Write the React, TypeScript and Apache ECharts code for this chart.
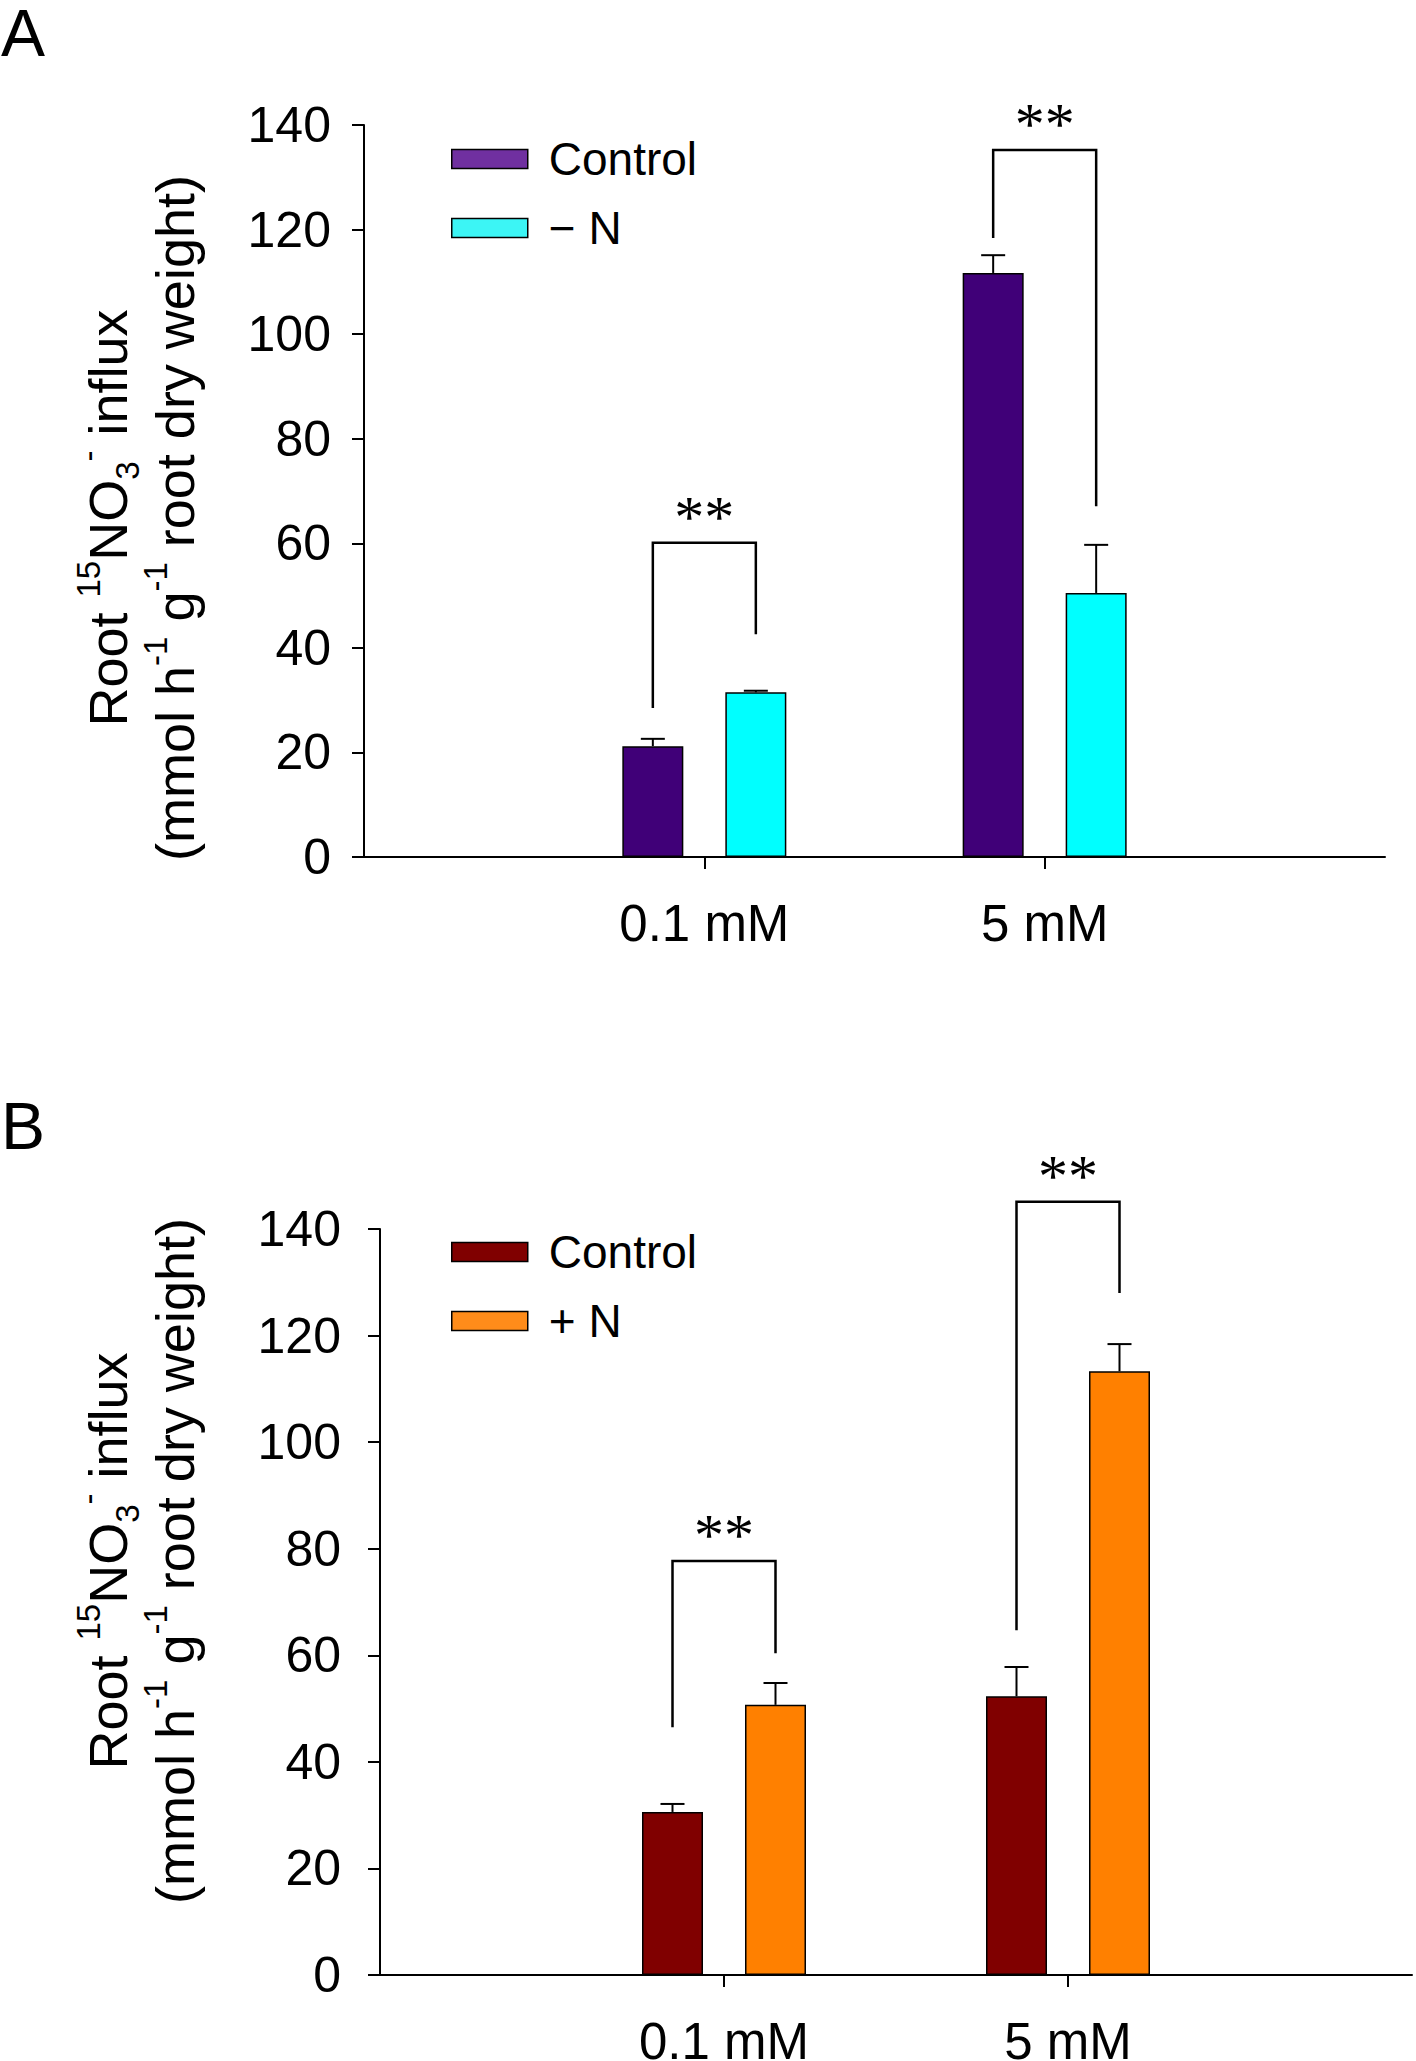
import React, { useEffect, useRef } from "react";
import * as echarts from "echarts";

const FONT = '"Liberation Sans", Arial, sans-serif';
const SERIF = '"Liberation Serif", "Times New Roman", serif';

// ---------- data ----------
const categories = ["0.1 mM", "5 mM"];
const yMin = 0;
const yMax = 140;
const yInterval = 20;

// Panel A
const aControl = [21.2, 111.7];
const aControlErr = [1.4, 3.4];
const aMinusN = [31.5, 50.5];
const aMinusNErr = [0.3, 9.2];
// [bracket top, left leg bottom, right leg bottom]
const aBrackets = [
  [60.1, 28.5, 42.6],
  [135.2, 118.4, 67.1],
];

// Panel B
const bControl = [30.6, 52.3];
const bControlErr = [1.5, 5.5];
const bPlusN = [50.7, 113.3];
const bPlusNErr = [4.1, 5.1];
const bBrackets = [
  [77.7, 46.5, 60.4],
  [145.1, 64.7, 128.0],
];

const BAR_W = 61;
const BAR_GAP_PX = 42;
const HALF = (BAR_W + BAR_GAP_PX) / 2;

const titleLine1 = "{a|Root }{sup|15}{a|NO}{sub|3}{sup|-}{a| influx}";
const titleLine2 = "{a|(mmol h}{sup|-1}{a| g}{sup|-1}{a| root dry weight)}";

const richTitle = {
  a: { fontSize: 54, fontFamily: FONT, fill: "#000", lineHeight: 72, verticalAlign: "middle" },
  sup: { fontSize: 33, fontFamily: FONT, fill: "#000", lineHeight: 35, verticalAlign: "top" },
  sub: { fontSize: 33, fontFamily: FONT, fill: "#000", lineHeight: 31, verticalAlign: "bottom" },
};

type Panel = {
  letter: string;
  letterY: number;
  s1Name: string;
  s2Name: string;
  s1: number[];
  s1Err: number[];
  s2: number[];
  s2Err: number[];
  s1Color: string;
  s2Color: string;
  s1Legend: string;
  s2Legend: string;
  brackets: number[][];
  grid: { left: number; top: number; width: number; height: number };
  yLabelMargin: number;
  legendTop: number;
  titleY: number;
};

const panelA: Panel = {
  letter: "A",
  letterY: 66,
  s1Name: "Control",
  s2Name: "\u2212 N",
  s1: aControl,
  s1Err: aControlErr,
  s2: aMinusN,
  s2Err: aMinusNErr,
  s1Color: "#400078",
  s2Color: "#00FFFF",
  s1Legend: "#7030A0",
  s2Legend: "#3CF5F5",
  brackets: aBrackets,
  grid: { left: 364, top: 125, width: 1021, height: 732 },
  yLabelMargin: 33,
  legendTop: 136,
  titleY: 518,
};

const panelB: Panel = {
  letter: "B",
  letterY: 129,
  s1Name: "Control",
  s2Name: "+ N",
  s1: bControl,
  s1Err: bControlErr,
  s2: bPlusN,
  s2Err: bPlusNErr,
  s1Color: "#800000",
  s2Color: "#FF8000",
  s1Legend: "#800000",
  s2Legend: "#FF8C1A",
  brackets: bBrackets,
  grid: { left: 380, top: 199, width: 1032, height: 746 },
  yLabelMargin: 39,
  legendTop: 199,
  titleY: 531,
};

function errSeries(values: number[], errs: number[], offset: number) {
  return {
    type: "custom",
    silent: true,
    z: 5,
    clip: false,
    data: values.map((v, i) => [i + 1, v, errs[i]]),
    renderItem: (params: any, api: any) => {
      const c = api.coord([api.value(0), api.value(1)]);
      const t = api.coord([api.value(0), api.value(1) + api.value(2)]);
      const x = c[0] + offset;
      return {
        type: "group",
        children: [
          { type: "line", shape: { x1: x, y1: c[1], x2: x, y2: t[1] }, style: { stroke: "#000", lineWidth: 2 } },
          { type: "line", shape: { x1: x - 12, y1: t[1], x2: x + 12, y2: t[1] }, style: { stroke: "#000", lineWidth: 2 } },
        ],
      };
    },
  };
}

function bracketSeries(brackets: number[][]) {
  return {
    type: "custom",
    silent: true,
    z: 6,
    clip: false,
    data: brackets.map((b, i) => [i + 1, b[0], b[1], b[2]]),
    renderItem: (params: any, api: any) => {
      const cat = api.value(0);
      const top = api.coord([cat, api.value(1)]);
      const lb = api.coord([cat, api.value(2)]);
      const rb = api.coord([cat, api.value(3)]);
      const xl = top[0] - HALF;
      const xr = top[0] + HALF;
      return {
        type: "group",
        children: [
          {
            type: "polyline",
            shape: { points: [[xl, lb[1]], [xl, top[1]], [xr, top[1]], [xr, rb[1]]] },
            style: { stroke: "#000", lineWidth: 2.5, fill: null },
          },
          {
            type: "text",
            x: top[0],
            y: top[1] - 26,
            style: { text: "**", fontSize: 60, fontFamily: SERIF, fill: "#000", align: "center", verticalAlign: "middle" },
          },
        ],
      };
    },
  };
}

function buildOption(p: Panel) {
  const axisLine = { show: true, lineStyle: { color: "#000", width: 2 } };
  return {
    animation: false,
    backgroundColor: "#fff",
    grid: { ...p.grid, containLabel: false, outerBoundsMode: "none" },
    xAxis: {
      type: "category",
      data: ["", ...categories, ""],
      boundaryGap: false,
      axisLine,
      axisTick: {
        show: true,
        interval: (i: number) => i > 0 && i <= categories.length,
        length: 12,
        lineStyle: { color: "#000", width: 2 },
      },
      axisLabel: { interval: 0, color: "#000", fontSize: 51, fontFamily: FONT, margin: 41 },
      splitLine: { show: false },
    },
    yAxis: {
      type: "value",
      min: yMin,
      max: yMax,
      interval: yInterval,
      axisLine,
      axisTick: { show: true, length: 12, lineStyle: { color: "#000", width: 2 } },
      axisLabel: { color: "#000", fontSize: 50, fontFamily: FONT, margin: p.yLabelMargin },
      splitLine: { show: false },
    },
    legend: {
      orient: "vertical",
      left: 451,
      top: p.legendTop,
      padding: 0,
      itemWidth: 76,
      itemHeight: 19,
      itemGap: 23,
      icon: "rect",
      selectedMode: false,
      textStyle: { fontSize: 46, fontFamily: FONT, color: "#000", lineHeight: 46, padding: [0, 0, 0, 16] },
      data: [
        { name: p.s1Name, itemStyle: { color: p.s1Legend, borderColor: "#000", borderWidth: 1.5 } },
        { name: p.s2Name, itemStyle: { color: p.s2Legend, borderColor: "#000", borderWidth: 1.5 } },
      ],
    },
    series: [
      {
        name: p.s1Name,
        type: "bar",
        barWidth: BAR_W,
        barGap: (BAR_GAP_PX / BAR_W) * 100 + "%",
        data: p.s1.map((v, i) => [i + 1, v]),
        itemStyle: { color: p.s1Color, borderColor: "#000", borderWidth: 1.5 },
      },
      {
        name: p.s2Name,
        type: "bar",
        barWidth: BAR_W,
        barGap: (BAR_GAP_PX / BAR_W) * 100 + "%",
        data: p.s2.map((v, i) => [i + 1, v]),
        itemStyle: { color: p.s2Color, borderColor: "#000", borderWidth: 1.5 },
      },
      errSeries(p.s1, p.s1Err, -HALF),
      errSeries(p.s2, p.s2Err, HALF),
      bracketSeries(p.brackets),
    ],
    graphic: [
      {
        type: "text",
        x: 1,
        y: p.letterY,
        style: { text: p.letter, fontSize: 66, fontFamily: FONT, fill: "#000", align: "left", verticalAlign: "bottom" },
      },
      {
        type: "text",
        x: 108,
        y: p.titleY,
        rotation: Math.PI / 2,
        style: { text: titleLine1, rich: richTitle, align: "center", verticalAlign: "middle", fill: "#000", fontSize: 54, fontFamily: FONT },
      },
      {
        type: "text",
        x: 175,
        y: p.titleY,
        rotation: Math.PI / 2,
        style: { text: titleLine2, rich: richTitle, align: "center", verticalAlign: "middle", fill: "#000", fontSize: 54, fontFamily: FONT },
      },
    ],
  };
}

export default function App() {
  const refA = useRef<HTMLDivElement>(null);
  const refB = useRef<HTMLDivElement>(null);
  useEffect(() => {
    document.body.style.margin = "0";
    const ca = echarts.init(refA.current!, null, { renderer: "svg" });
    const cb = echarts.init(refB.current!, null, { renderer: "svg" });
    ca.setOption(buildOption(panelA) as any);
    cb.setOption(buildOption(panelB) as any);
    return () => {
      ca.dispose();
      cb.dispose();
    };
  }, []);
  return (
    <div style={{ position: "relative", width: 1416, height: 2061, background: "#fff" }}>
      <div ref={refA} style={{ position: "absolute", left: 0, top: 0, width: 1416, height: 1030 }} />
      <div ref={refB} style={{ position: "absolute", left: 0, top: 1030, width: 1416, height: 1031 }} />
    </div>
  );
}
